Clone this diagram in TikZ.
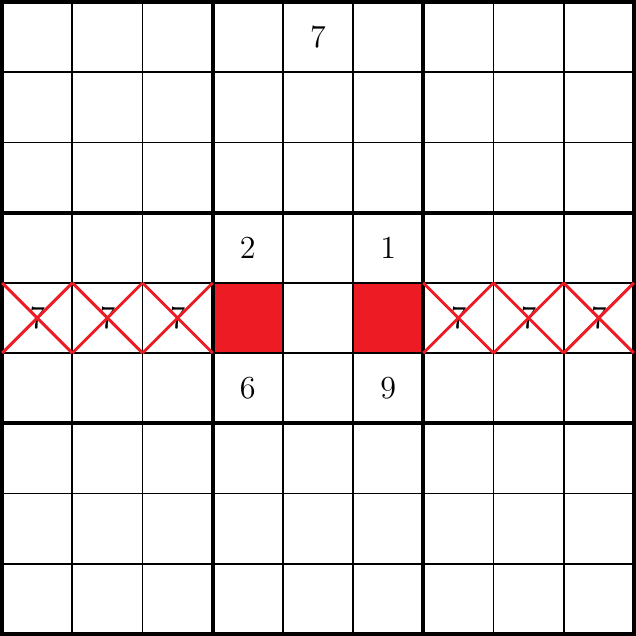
\documentclass[tikz,border=0pt]{standalone}
\usetikzlibrary{positioning}
\definecolor{xred}{RGB}{237,28,36}
\begin{document}
\begin{tikzpicture}[x=1cm,y=1cm,
cell/.style = {minimum size=1cm, inner sep=0pt, outer sep=0pt},
digit/.style = {cell, font=\fontsize{13}{15}\selectfont},
blocked/.style = {cell, fill=xred},
gridline/.style = {draw, black, line width=0.8pt},
boxline/.style = {draw, black, line width=1.6pt},
cross/.style = {draw=xred, line width=1.2pt}]

\useasboundingbox (-0.03,-0.03) rectangle (9.03,9.03);

% blocked cells
\node [blocked] (b1) at (3.5,4.5) {};
\node [blocked] (b2) at (5.5,4.5) {};

% grid
\foreach \i in {1,2,4,5,7,8}
  \path[gridline] (\i,0) -- (\i,9) (0,\i) -- (9,\i);
\foreach \i in {3,6}
  \path[boxline] (\i,0) -- (\i,9) (0,\i) -- (9,\i);
\path[boxline] (0,0) rectangle (9,9);

% givens
\node [digit] (top) at (4.5,8.5) {7};
\node [digit] (c2) at (3.5,5.5) {2};
\node [digit] (c1) at (5.5,5.5) {1};
\node [digit] (c6) at (3.5,3.5) {6};
\node [digit] (c9) at (5.5,3.5) {9};

% struck out candidates
\foreach \c in {0,1,2,6,7,8}
{
  \node [digit] (s\c) at (\c+0.5,4.5) {7};
  \path[cross] (s\c.north west) -- (s\c.south east)
               (s\c.south west) -- (s\c.north east);
}
\end{tikzpicture}
\end{document}
